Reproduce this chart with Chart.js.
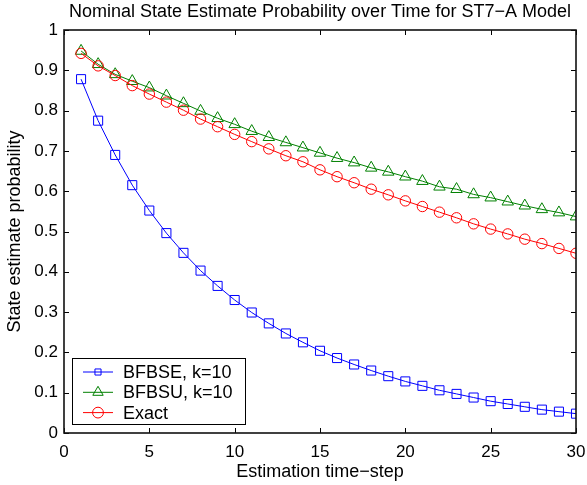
<!DOCTYPE html>
<html>
<head>
<meta charset="utf-8">
<script src="https://cdn.jsdelivr.net/npm/chart.js@4"></script>
<style>
  html, body { margin: 0; padding: 0; background: #fff; }
  #wrap { width: 587px; height: 485px; }
</style>
</head>
<body>
<div id="wrap"><canvas id="probChart" width="587" height="485"></canvas></div>
<script>
const steps = [1, 2, 3, 4, 5, 6, 7, 8, 9, 10, 11, 12, 13, 14, 15,
  16, 17, 18, 19, 20, 21, 22, 23, 24, 25, 26, 27, 28, 29, 30];

const bfbse = [0.878, 0.775, 0.690, 0.615, 0.552, 0.496, 0.447, 0.403, 0.365, 0.330,
  0.299, 0.272, 0.247, 0.225, 0.204, 0.186, 0.170, 0.155, 0.141, 0.128,
  0.117, 0.106, 0.097, 0.088, 0.079, 0.072, 0.065, 0.058, 0.053, 0.048];

const bfbsu = [0.948, 0.915, 0.890, 0.873, 0.857, 0.837, 0.818, 0.799, 0.781, 0.766,
  0.749, 0.734, 0.721, 0.708, 0.695, 0.682, 0.671, 0.658, 0.648, 0.636,
  0.625, 0.611, 0.605, 0.592, 0.584, 0.574, 0.564, 0.555, 0.547, 0.537];

const exact = [0.942, 0.911, 0.887, 0.862, 0.841, 0.821, 0.801, 0.779, 0.760, 0.741,
  0.723, 0.705, 0.688, 0.673, 0.653, 0.636, 0.621, 0.605, 0.591, 0.576,
  0.562, 0.548, 0.534, 0.519, 0.506, 0.494, 0.481, 0.470, 0.458, 0.446];

const seriesNames = ["BFBSE, k=10", "BFBSU, k=10", "Exact"];
const legendRadius = [4.3, 6, 5.4];
const FONT = "Liberation Sans, Arial, Helvetica, sans-serif";

function toPoints(ys) {
  return steps.map((x, i) => ({ x: x, y: ys[i] }));
}

function makeSet(label, ys, color, style, radius, order) {
  return {
    label: label,
    data: toPoints(ys),
    borderColor: color,
    backgroundColor: "transparent",
    borderWidth: 1,
    pointStyle: style,
    pointRadius: radius,
    pointBorderWidth: 1,
    pointBorderColor: color,
    pointBackgroundColor: "transparent",
    tension: 0,
    order: order,
  };
}

// matlab style box, inward ticks and a legend inside the axes
const matlabBox = {
  id: "matlabBox",
  afterDraw(chart) {
    const ctx = chart.ctx;
    const a = chart.chartArea;
    const xs = chart.scales.x;
    const ys = chart.scales.y;
    const tl = 5;
    ctx.save();
    ctx.strokeStyle = "#000";
    ctx.lineWidth = 1;
    ctx.beginPath();
    xs.ticks.forEach((t) => {
      const px = Math.round(xs.getPixelForValue(t.value)) + 0.5;
      ctx.moveTo(px, a.bottom);
      ctx.lineTo(px, a.bottom - tl);
      ctx.moveTo(px, a.top);
      ctx.lineTo(px, a.top + tl);
    });
    ys.ticks.forEach((t) => {
      const py = Math.round(ys.getPixelForValue(t.value)) + 0.5;
      ctx.moveTo(a.left, py);
      ctx.lineTo(a.left + tl, py);
      ctx.moveTo(a.right, py);
      ctx.lineTo(a.right - tl, py);
    });
    ctx.stroke();
    ctx.lineWidth = 1.6;
    ctx.strokeStyle = "#111";
    ctx.strokeRect(a.left, a.top, a.right - a.left, a.bottom - a.top);

    // legend
    const lx = 72, ly = 358, lw = 173, lh = 66;
    ctx.fillStyle = "#fff";
    ctx.fillRect(lx, ly, lw, lh);
    ctx.lineWidth = 1;
    ctx.strokeStyle = "#000";
    ctx.strokeRect(lx + 0.5, ly + 0.5, lw, lh);
    ctx.font = "18px " + FONT;
    ctx.textBaseline = "middle";
    ctx.textAlign = "left";
    chart.data.datasets.forEach((ds, i) => {
      const cy = ly + 14 + i * 20.3;
      ctx.strokeStyle = ds.borderColor;
      ctx.lineWidth = 1;
      ctx.beginPath();
      ctx.moveTo(lx + 11, cy);
      ctx.lineTo(lx + 41, cy);
      ctx.stroke();
      ctx.fillStyle = "rgba(0,0,0,0)";
      Chart.helpers.drawPoint(ctx, {
        pointStyle: ds.pointStyle,
        radius: legendRadius[i],
        borderWidth: 1,
        rotation: 0,
      }, lx + 26, cy);
      ctx.fillStyle = "#000";
      ctx.fillText(ds.label, lx + 51, cy + 1);
    });
    ctx.restore();
  },
};

new Chart(document.getElementById("probChart"), {
  type: "line",
  data: {
    datasets: [
      makeSet(seriesNames[0], bfbse, "#0000ff", "rect", 6.4, 3),
      makeSet(seriesNames[1], bfbsu, "#008000", "triangle", 6.6, 2),
      makeSet(seriesNames[2], exact, "#ff0000", "circle", 5.2, 1),
    ],
  },
  options: {
    responsive: false,
    animation: false,
    layout: { padding: { left: 0, right: 11, top: 0, bottom: 0 } },
    plugins: {
      legend: { display: false },
      tooltip: { enabled: false },
      title: {
        display: true,
        fullSize: false,
        text: "Nominal State Estimate Probability over Time for ST7\u2212A Model",
        color: "#000",
        font: { family: FONT, size: 18, weight: "normal" },
        padding: { top: 1, bottom: 7.4 },
      },
    },
    scales: {
      x: {
        type: "linear",
        min: 0,
        max: 30,
        afterFit(scale) {
          scale.height = 52;
          scale.paddingLeft = 0;
          scale.paddingRight = 0;
        },
        grid: { display: false, drawTicks: false },
        border: { display: false },
        ticks: {
          stepSize: 5,
          color: "#000",
          padding: 9,
          maxRotation: 0,
          font: { family: FONT, size: 17 },
        },
        title: {
          display: true,
          text: "Estimation time\u2212step",
          color: "#000",
          font: { family: FONT, size: 18 },
          padding: { top: 0, bottom: 2 },
        },
      },
      y: {
        min: 0,
        max: 1,
        afterFit(scale) {
          scale.width = 64;
          scale.paddingTop = 0;
          scale.paddingBottom = 0;
        },
        grid: { display: false, drawTicks: false },
        border: { display: false },
        ticks: {
          stepSize: 0.1,
          color: "#000",
          padding: 6,
          font: { family: FONT, size: 17 },
          callback: (v) => String(parseFloat(v.toFixed(1))),
        },
        title: {
          display: true,
          text: "State estimate probability",
          color: "#000",
          font: { family: FONT, size: 18 },
          padding: { top: 4, bottom: 0 },
        },
      },
    },
  },
  plugins: [matlabBox],
});
</script>
</body>
</html>
